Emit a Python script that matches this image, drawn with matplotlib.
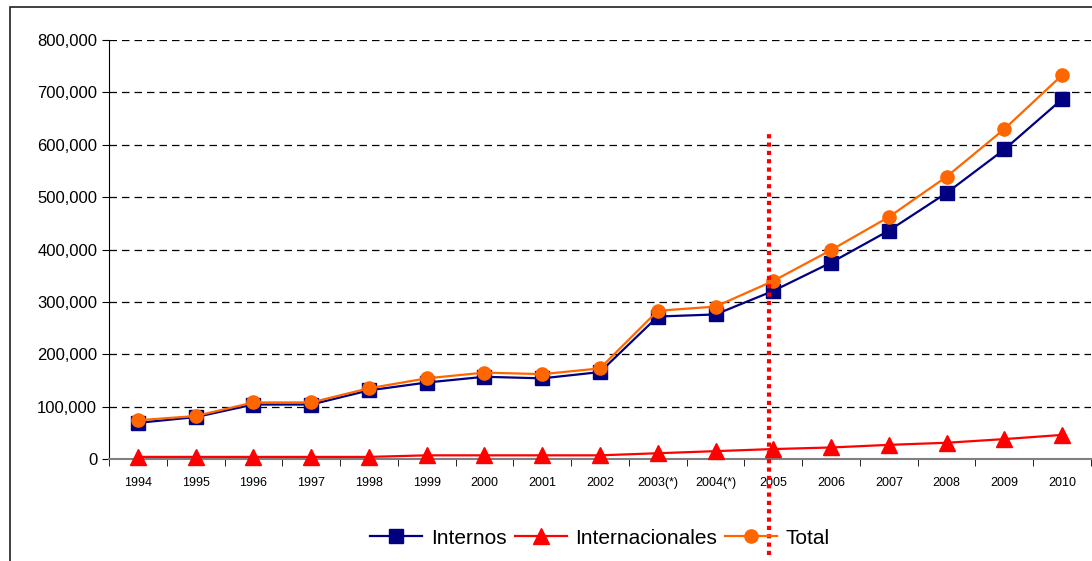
import numpy as np
import matplotlib
matplotlib.use('Agg')
import matplotlib.pyplot as plt
from matplotlib.patches import Rectangle
from matplotlib.ticker import FuncFormatter

plt.rcParams['font.family'] = ['Liberation Sans', 'DejaVu Sans']

years = ['1994', '1995', '1996', '1997', '1998', '1999', '2000', '2001', '2002',
         '2003(*)', '2004(*)', '2005', '2006', '2007', '2008', '2009', '2010']
internos = [69000, 80000, 104000, 104000, 131000, 146000, 157000, 154000, 166000,
            272000, 276000, 321000, 375000, 436000, 508000, 591000, 687000]
internacionales = [4000, 4000, 4000, 4000, 4000, 7000, 7000, 7000, 7000,
                   11000, 15000, 19000, 22000, 27000, 31000, 38000, 46000]
total = [74000, 82000, 108000, 108000, 135000, 154000, 165000, 162000, 173000,
         283000, 291000, 340000, 399000, 462000, 539000, 630000, 733000]
corte = 10.92  # position of the red dotted divider (just left of 2005)


def main():
    fig = plt.figure(figsize=(10.92, 5.61), dpi=100)
    ax = fig.add_axes([109 / 1092, 102 / 561, 982 / 1092, 419 / 561])

    # outer frame of the chart object
    fig.patches.append(Rectangle((10 / 1092, -0.05), 1.2, (554 / 561) + 0.05,
                                 transform=fig.transFigure, fill=False,
                                 edgecolor='#202020', linewidth=1.2))

    x = np.arange(len(years))
    ax.plot(x, internos, color='#000080', lw=1.6, marker='s', ms=9.5,
            label='Internos', zorder=3, clip_on=False)
    ax.plot(x, internacionales, color='#FF0000', lw=1.6, marker='^', ms=11,
            label='Internacionales', zorder=3, clip_on=False)
    ax.plot(x, total, color='#FF6600', lw=1.6, marker='o', ms=9.5,
            label='Total', zorder=4, clip_on=False)

    ax.axvline(corte, ymin=-0.229, ymax=0.78, color='#FF0000', lw=3,
               linestyle=(0, (1, 1)), clip_on=False, zorder=5)

    ax.set_xlim(-0.5, len(years) - 0.5)
    ax.set_ylim(0, 800000)
    ax.set_yticks(np.arange(0, 800001, 100000))
    ax.yaxis.set_major_formatter(FuncFormatter(lambda v, p: f'{int(v):,}'))
    ax.set_xticks(x)
    ax.set_xticklabels(years, fontsize=9)
    ax.set_xticks(np.arange(-0.5, len(years)), minor=True)
    ax.tick_params(axis='x', which='major', length=0, pad=13)
    ax.tick_params(axis='x', which='minor', length=5, color='black', direction='out')
    ax.tick_params(axis='y', length=5, labelsize=12, direction='out', color='black')

    ax.grid(axis='y', color='black', linestyle=(0, (6, 4)), linewidth=0.9)
    ax.set_axisbelow(True)
    for s in ['top', 'right']:
        ax.spines[s].set_visible(False)
    ax.spines['left'].set_color('black')
    ax.spines['bottom'].set_color('#808080')
    ax.spines['bottom'].set_linewidth(1.5)

    fig.legend(loc='center', bbox_to_anchor=(600 / 1092, 1 - 538 / 561), ncol=3,
               frameon=False, fontsize=15, handlelength=2.5, columnspacing=0.4,
               handletextpad=0.4)

    fig.savefig('out.png', dpi=100)


if __name__ == '__main__':
    main()
